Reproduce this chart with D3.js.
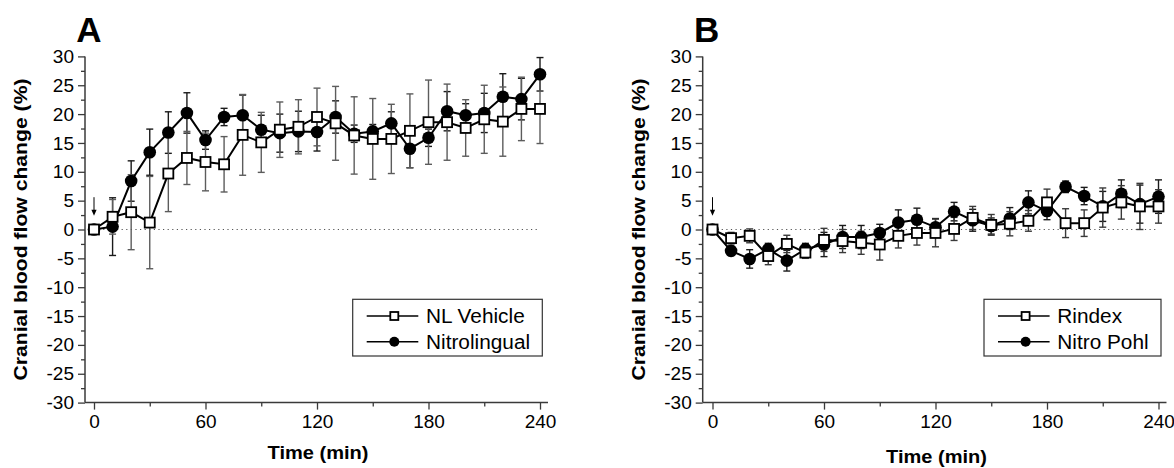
<!DOCTYPE html>
<html>
<head>
<meta charset="utf-8">
<script src="https://cdn.jsdelivr.net/npm/d3@7"></script>
<style>
  body { margin: 0; background: #fff; }
  svg { display: block; }
  text { font-family: "Liberation Sans", Arial, Helvetica, sans-serif; fill: #000; }
</style>
</head>
<body>
<svg id="chart" width="1174" height="468"></svg>
<script>
// Sampling times (min)
const times = [0, 10, 20, 30, 40, 50, 60, 70, 80, 90, 100, 110, 120, 130, 140, 150, 160, 170, 180, 190, 200, 210, 220, 230, 240];

// Panel A: mean % change and SEM
const nlVehicle    = [0, 2.2, 3.0, 1.2, 9.7, 12.4, 11.7, 11.3, 16.4, 15.1, 17.3, 17.8, 19.5, 18.4, 16.3, 15.7, 15.7, 17.1, 18.6, 18.6, 17.6, 19.1, 18.7, 20.9, 20.9];
const nlVehicleSem = [0, 3.0, 6.5, 8.0, 6.6, 4.6, 5.0, 4.8, 7.0, 5.2, 4.8, 4.7, 5.0, 6.4, 6.7, 7.0, 6.0, 6.4, 7.3, 6.6, 4.9, 5.9, 6.0, 5.5, 6.0];
const nitrolingual    = [0, 0.5, 8.4, 13.4, 16.8, 20.2, 15.5, 19.5, 19.8, 17.3, 16.7, 17.0, 16.9, 19.5, 16.6, 17.0, 18.4, 14.0, 15.9, 20.5, 19.8, 20.2, 23.0, 22.6, 26.9];
const nitrolingualSem = [0, 5.0, 3.5, 4.0, 3.6, 3.5, 1.6, 1.5, 3.5, 2.5, 3.3, 3.5, 3.3, 2.8, 1.5, 1.2, 2.0, 3.3, 1.5, 3.4, 2.0, 3.4, 4.0, 3.6, 2.9];

// Panel B: mean % change and SEM
const rindex    = [0, -1.5, -1.1, -4.6, -2.5, -4.0, -1.8, -2.0, -2.3, -2.6, -1.1, -0.6, -0.6, 0.1, 2.0, 0.8, 1.0, 1.5, 4.7, 1.1, 1.1, 3.8, 4.7, 4.0, 4.0];
const rindexSem = [0, 1.0, 1.2, 1.5, 1.5, 1.0, 2.0, 2.0, 2.0, 2.7, 2.1, 2.1, 2.4, 2.0, 2.0, 1.8, 2.1, 1.8, 2.3, 2.5, 2.3, 3.4, 2.9, 4.0, 2.9];
const nitroPohl    = [0, -3.7, -5.1, -3.4, -5.4, -3.4, -2.6, -1.3, -1.3, -0.6, 1.2, 1.7, 0.4, 3.1, 1.6, 0.6, 1.9, 4.7, 3.2, 7.4, 5.8, 4.0, 6.2, 4.4, 5.7];
const nitroPohlSem = [0, 0.8, 1.6, 1.0, 1.8, 1.0, 2.1, 2.0, 2.0, 1.5, 2.2, 2.0, 1.5, 1.6, 1.9, 1.4, 1.9, 2.0, 1.5, 1.0, 1.5, 2.6, 2.4, 3.3, 2.9];

// Axis ticks
const xMajorTicks = [0, 60, 120, 180, 240];
const xMinorTicks = [30, 90, 150, 210];
const yMajorTicks = [-30, -25, -20, -15, -10, -5, 0, 5, 10, 15, 20, 25, 30];
const yMinorTicks = [-27.5, -22.5, -17.5, -12.5, -7.5, -2.5, 2.5, 7.5, 12.5, 17.5, 22.5, 27.5];

// Dose marker arrow (value range above baseline at t = 0)
const arrowTime = 0;
const arrowFrom = 5.6;
const arrowTo = 2.4;

const yLabel = "Cranial blood flow change (%)";
const xLabel = "Time (min)";

const panels = [
  {
    letter: "A", x0: 94, axisX: 85, xTitleY: 459,
    legendBox: { x: 352.7, y: 299.3, w: 189.6, h: 56.7 },
    series: [
      { name: "Nitrolingual", values: nitrolingual, sem: nitrolingualSem, shape: "circle", barColor: "#1a1a1a" },
      { name: "NL Vehicle", values: nlVehicle, sem: nlVehicleSem, shape: "square", barColor: "#5c5c5c" }
    ],
    legendOrder: ["NL Vehicle", "Nitrolingual"]
  },
  {
    letter: "B", x0: 712.5, axisX: 702.7, xTitleY: 463,
    legendBox: { x: 984, y: 299.3, w: 177, h: 56.7 },
    series: [
      { name: "Nitro Pohl", values: nitroPohl, sem: nitroPohlSem, shape: "circle", barColor: "#1a1a1a" },
      { name: "Rindex", values: rindex, sem: rindexSem, shape: "square", barColor: "#3a3a3a" }
    ],
    legendOrder: ["Rindex", "Nitro Pohl"]
  }
];

const svg = d3.select("#chart");
const y = d3.scaleLinear().domain([-30, 30]).range([402.6, 56.4]);
const axisColor = "#3a3a3a";

// Stretch text horizontally by a factor
function stretch(sel, k) {
  sel.each(function () {
    const w = this.getComputedTextLength();
    this.setAttribute("textLength", (w * k).toFixed(1));
    this.setAttribute("lengthAdjust", "spacingAndGlyphs");
  });
}

function drawMarker(g, shape, cx, cy, size) {
  if (shape === "circle") {
    g.append("circle").attr("cx", cx).attr("cy", cy).attr("r", size / 2)
      .attr("fill", "#000");
  } else {
    g.append("rect").attr("x", cx - size / 2).attr("y", cy - size / 2)
      .attr("width", size).attr("height", size)
      .attr("fill", "#fff").attr("stroke", "#000").attr("stroke-width", 1.8);
  }
}

panels.forEach(p => {
  const x = d3.scaleLinear().domain([0, 240]).range([p.x0, p.x0 + 446]);
  const g = svg.append("g");

  // zero baseline (dotted)
  g.append("line")
    .attr("x1", x(0)).attr("x2", x(240))
    .attr("y1", y(0)).attr("y2", y(0))
    .attr("stroke", "#555").attr("stroke-width", 1)
    .attr("stroke-dasharray", "1.2,3.4");

  // X axis
  const xAxisG = g.append("g").attr("transform", `translate(0,${y(-30)})`);
  xAxisG.call(d3.axisBottom(x).tickValues(xMajorTicks).tickSize(7).tickPadding(5)
    .tickFormat(d => String(d)));
  xAxisG.append("g").call(d3.axisBottom(x).tickValues(xMinorTicks).tickSize(4).tickFormat(""));
  xAxisG.selectAll(".domain").remove();
  xAxisG.selectAll("line").attr("stroke", axisColor).attr("stroke-width", 1.3);
  xAxisG.selectAll("text").attr("font-size", 19).attr("fill", "#000");
  g.append("line")
    .attr("x1", p.axisX).attr("x2", x(244.3))
    .attr("y1", y(-30)).attr("y2", y(-30))
    .attr("stroke", axisColor).attr("stroke-width", 1.5);

  // Y axis
  const yAxisG = g.append("g").attr("transform", `translate(${p.axisX},0)`);
  yAxisG.call(d3.axisLeft(y).tickValues(yMajorTicks).tickSize(7).tickPadding(4)
    .tickFormat(d => String(d)));
  yAxisG.append("g").call(d3.axisLeft(y).tickValues(yMinorTicks).tickSize(4).tickFormat(""));
  yAxisG.selectAll(".domain").remove();
  yAxisG.selectAll("line").attr("stroke", axisColor).attr("stroke-width", 1.3);
  yAxisG.selectAll("text").attr("font-size", 19).attr("fill", "#000");
  g.append("line")
    .attr("x1", p.axisX).attr("x2", p.axisX)
    .attr("y1", y(-30)).attr("y2", y(30))
    .attr("stroke", axisColor).attr("stroke-width", 1.5);

  // Error bars
  p.series.forEach(s => {
    const eb = g.append("g").attr("stroke", s.barColor).attr("stroke-width", 1.4);
    times.forEach((t, i) => {
      if (!s.sem[i]) return;
      const cx = x(t), top = y(s.values[i] + s.sem[i]), bot = y(s.values[i] - s.sem[i]);
      eb.append("line").attr("x1", cx).attr("x2", cx).attr("y1", top).attr("y2", bot);
      eb.append("line").attr("x1", cx - 3.5).attr("x2", cx + 3.5).attr("y1", top).attr("y2", top);
      eb.append("line").attr("x1", cx - 3.5).attr("x2", cx + 3.5).attr("y1", bot).attr("y2", bot);
    });
  });

  // Lines
  const line = d3.line().x((d, i) => x(times[i])).y(d => y(d));
  p.series.forEach(s => {
    g.append("path").datum(s.values).attr("d", line)
      .attr("fill", "none").attr("stroke", "#000").attr("stroke-width", 2);
  });

  // Markers
  p.series.forEach(s => {
    const mg = g.append("g");
    times.forEach((t, i) => drawMarker(mg, s.shape, x(t), y(s.values[i]), s.shape === "circle" ? 12.6 : 10));
  });

  // Dose arrow
  const ax = x(arrowTime), ay1 = y(arrowFrom), ay2 = y(arrowTo);
  g.append("line").attr("x1", ax).attr("x2", ax).attr("y1", ay1).attr("y2", ay2 - 5)
    .attr("stroke", "#000").attr("stroke-width", 1);
  g.append("path")
    .attr("d", `M${ax - 2.6},${ay2 - 6} L${ax + 2.6},${ay2 - 6} L${ax},${ay2} Z`)
    .attr("fill", "#000");

  // Axis titles
  g.append("text")
    .attr("transform", `translate(${p.axisX - 58},${y(0)}) rotate(-90)`)
    .attr("text-anchor", "middle")
    .attr("font-size", 18).attr("font-weight", "bold")
    .attr("textLength", 302).attr("lengthAdjust", "spacingAndGlyphs")
    .text(yLabel);

  g.append("text")
    .attr("x", x(120) + 1).attr("y", p.xTitleY)
    .attr("text-anchor", "middle")
    .attr("font-size", 18).attr("font-weight", "bold")
    .attr("textLength", 101).attr("lengthAdjust", "spacingAndGlyphs")
    .text(xLabel);

  // Panel letter
  g.append("text")
    .attr("x", p.axisX + 4).attr("y", 42)
    .attr("text-anchor", "middle")
    .attr("font-size", 35).attr("font-weight", "bold")
    .text(p.letter);

  // Legend
  const lb = p.legendBox;
  const lg = g.append("g");
  lg.append("rect").attr("x", lb.x).attr("y", lb.y).attr("width", lb.w).attr("height", lb.h)
    .attr("fill", "#fff").attr("stroke", "#333").attr("stroke-width", 1.2);
  p.legendOrder.forEach((name, j) => {
    const s = p.series.find(d => d.name === name);
    const cy = lb.y + 16.7 + j * 25.7;
    lg.append("line").attr("x1", lb.x + 14).attr("x2", lb.x + 65.6)
      .attr("y1", cy).attr("y2", cy).attr("stroke", "#000").attr("stroke-width", 1.5);
    drawMarker(lg, s.shape, lb.x + 41.6, cy, s.shape === "circle" ? 10 : 8);
    const tx = lg.append("text").attr("x", lb.x + 73.3).attr("y", cy + 7)
      .attr("font-size", 20).text(name);
    stretch(tx, 1.04);
  });
});
</script>
</body>
</html>
